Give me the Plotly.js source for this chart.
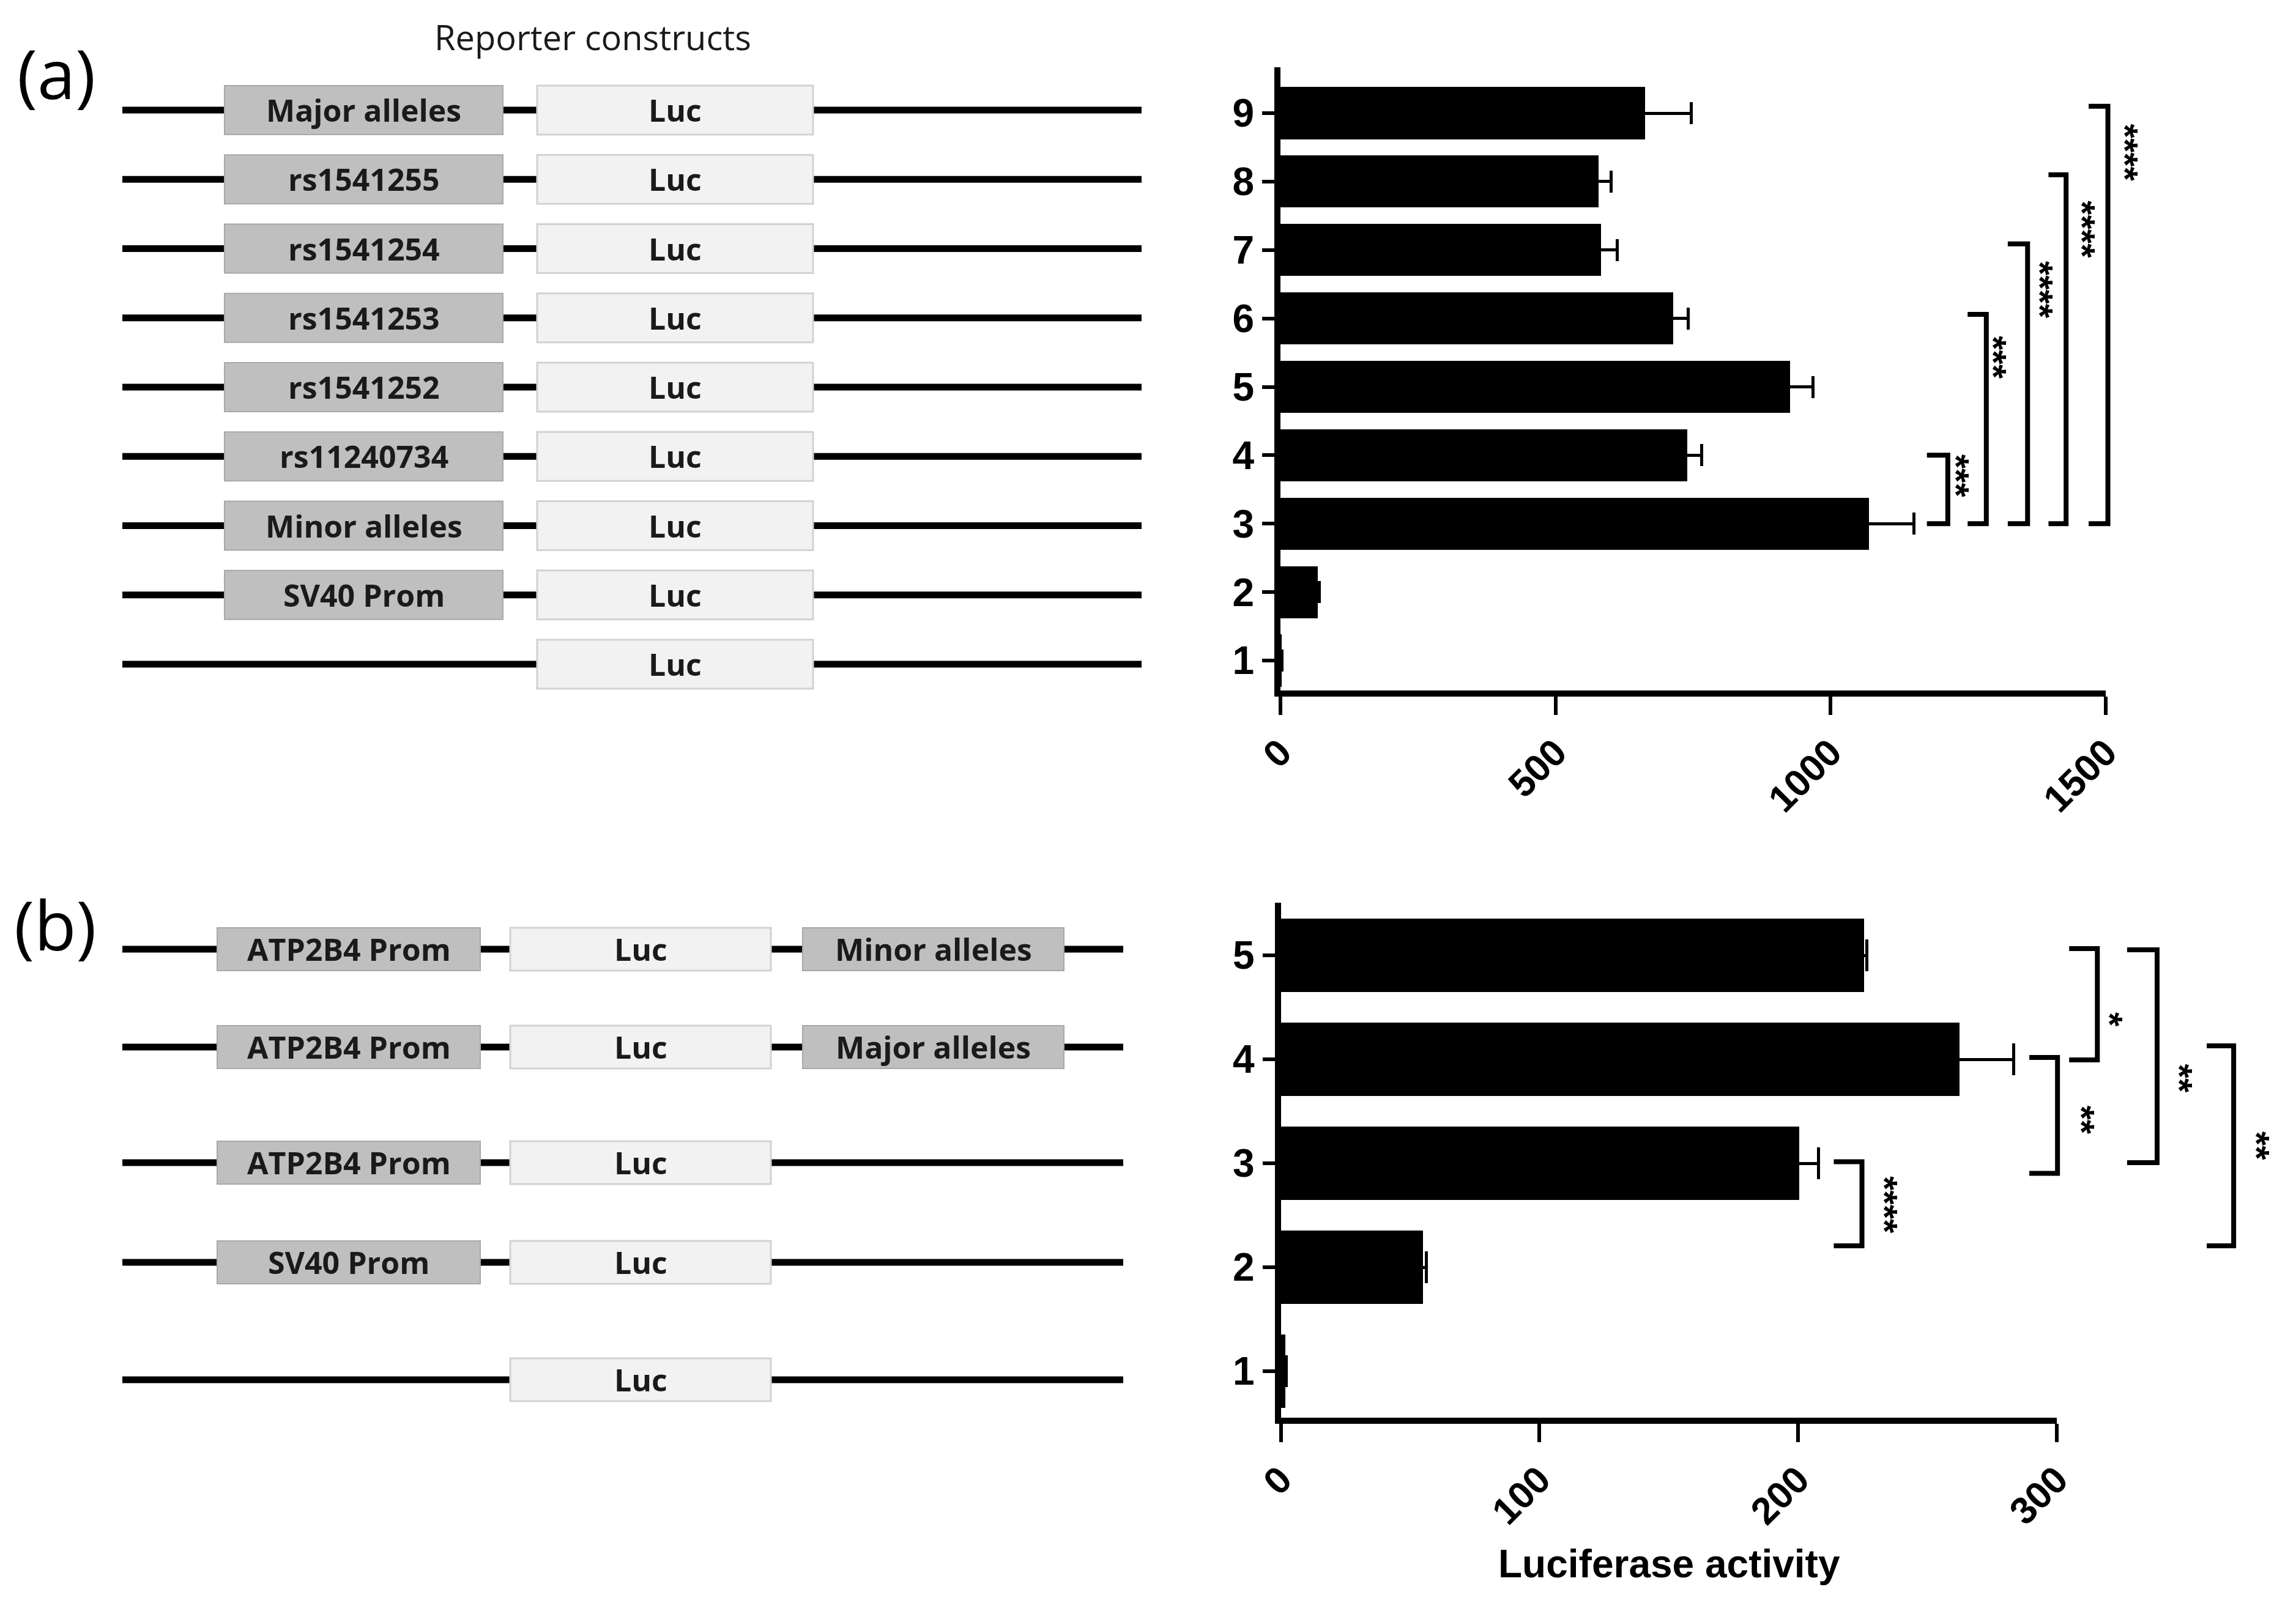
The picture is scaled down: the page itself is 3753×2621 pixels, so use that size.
<!DOCTYPE html>
<html>
<head>
<meta charset="utf-8">
<script src="https://cdn.plot.ly/plotly-3.0.1.min.js"></script>
<style>html,body{margin:0;padding:0;background:#fff;}#chart{width:3753px;height:2621px;}</style>
</head>
<body>
<div id="chart"></div>
<script>
// ---------------- DATA ----------------
// Panel (a): construct number (1..9) and luciferase activity
const aCats = [1, 2, 3, 4, 5, 6, 7, 8, 9];
const aValues = [2, 68, 1070, 740, 926, 714, 583, 578, 663];
const aErrors = [1, 3, 82, 26, 42, 27, 29, 23, 84];
const aTickVals = [0, 500, 1000, 1500];
const aTickText = ['0', '500', '1000', '1500'];
// constructs listed top (9) to bottom (1)
const aElements = ['Major alleles', 'rs1541255', 'rs1541254', 'rs1541253', 'rs1541252', 'rs11240734', 'Minor alleles', 'SV40 Prom', ''];
const aComparisons = [[3, 4], [3, 6], [3, 7], [3, 8], [3, 9]];
const aStars = ['***', '***', '****', '****', '****'];

// Panel (b)
const bCats = [1, 2, 3, 4, 5];
const bValues = [1.8, 55, 200.5, 262.5, 225.5];
const bErrors = [0.4, 1.2, 7.4, 20.8, 1.2];
const bTickVals = [0, 100, 200, 300];
const bTickText = ['0', '100', '200', '300'];
// constructs listed top (5) to bottom (1)
const bPromoters = ['ATP2B4 Prom', 'ATP2B4 Prom', 'ATP2B4 Prom', 'SV40 Prom', ''];
const bEnhancers = ['Minor alleles', 'Major alleles', '', '', ''];
const bComparisons = [[2, 3], [3, 4], [4, 5], [3, 5], [2, 4]];
const bStars = ['****', '**', '*', '**', '**'];

const reporterLabel = 'Luc';
const xTitle = 'Luciferase activity';

// ---------------- LAYOUT GEOMETRY (pixels of the 3753x2621 figure) ----------------
const W = 3753, H = 2621;
const px = v => v / W;
const py = v => 1 - v / H;

// bracket geometry, same order as comparisons: arm start, vertical x, low y, high y, star x, star y
const aBracketGeom = [
  [1175, 1213, 3.0, 4.0, 1239, 3.70],
  [1249, 1283, 3.0, 6.06, 1307, 5.43],
  [1322, 1358, 3.0, 7.09, 1392, 6.42],
  [1396, 1428, 3.0, 8.10, 1469, 7.30],
  [1469, 1504, 3.0, 9.10, 1546, 8.42]
];
const bBracketGeom = [
  [213.8, 224.7, 2.206, 3.014, 235.7, 2.60],
  [289.4, 300.3, 2.903, 4.018, 311.9, 3.42],
  [304.8, 315.7, 3.994, 5.065, 322.8, 4.38],
  [327.2, 338.8, 3.006, 5.053, 349.7, 3.82],
  [358.0, 368.4, 2.206, 4.129, 379.8, 3.17]
];

const tickFont = {family: 'Liberation Sans, Arial, sans-serif', size: 62, color: '#000', weight: 'bold'};
const ytickFont = {family: 'Liberation Sans, Arial, sans-serif', size: 64, color: '#000', weight: 'bold'};
const diagFont = {family: 'Open Sans, sans-serif', size: 50, color: '#1a1a1a', weight: 'bold'};

// plot areas
const aX0 = 2093, aPxPerUnit = 0.8993;
const aY = {top: 110, bottom: 1129};
const bX0 = 2093.5, bPxPerUnit = 4.228;
const bY = {top: 1476, bottom: 2318};

const traces = [
  {
    type: 'bar', orientation: 'h', y: aCats, x: aValues, width: 0.76,
    marker: {color: '#000', line: {width: 0}},
    error_x: {type: 'data', array: aErrors, visible: true, color: '#000', thickness: 5, width: 18},
    xaxis: 'x', yaxis: 'y', hoverinfo: 'skip', showlegend: false
  },
  {
    type: 'bar', orientation: 'h', y: bCats, x: bValues, width: 0.71,
    marker: {color: '#000', line: {width: 0}},
    error_x: {type: 'data', array: bErrors, visible: true, color: '#000', thickness: 5, width: 26},
    xaxis: 'x2', yaxis: 'y2', hoverinfo: 'skip', showlegend: false
  },
  {type: 'scatter', x: [], y: [], xaxis: 'x3', yaxis: 'y3', hoverinfo: 'skip', showlegend: false},
  {type: 'scatter', x: [], y: [], xaxis: 'x4', yaxis: 'y4', hoverinfo: 'skip', showlegend: false}
];

const commonX = {
  showgrid: false, zeroline: false, showline: true, linewidth: 10, linecolor: '#000',
  ticks: 'outside', ticklen: 30, tickwidth: 6, tickcolor: '#000', tickangle: -45,
  tickfont: tickFont, tickmode: 'array', fixedrange: true
};
const commonY = {
  showgrid: false, zeroline: false, showline: true, linewidth: 10, linecolor: '#000',
  ticks: 'outside', ticklen: 20, tickwidth: 6, tickcolor: '#000',
  tickfont: ytickFont, tickmode: 'array', fixedrange: true
};

const aRange = [1 - (aY.bottom - 1080) / 111.875, 9 + (185 - aY.top) / 111.875];
const bRange = [1 - (bY.bottom - 2242) / 170, 5 + (1562 - bY.top) / 170];

const layout = {
  width: W, height: H,
  margin: {l: 0, r: 0, t: 0, b: 0, pad: 0},
  paper_bgcolor: '#fff', plot_bgcolor: 'rgba(0,0,0,0)',
  showlegend: false, bargap: 0,
  xaxis: Object.assign({}, commonX, {
    domain: [px(aX0), px(aX0 + 1500 * aPxPerUnit)], range: [0, 1500],
    tickvals: aTickVals, ticktext: aTickText, anchor: 'y'
  }),
  yaxis: Object.assign({}, commonY, {
    domain: [py(aY.bottom), py(aY.top)], range: aRange,
    tickvals: aCats, ticktext: aCats.map(String), anchor: 'x'
  }),
  xaxis2: Object.assign({}, commonX, {
    domain: [px(bX0), px(bX0 + 300 * bPxPerUnit)], range: [0, 300],
    tickvals: bTickVals, ticktext: bTickText, anchor: 'y2'
  }),
  yaxis2: Object.assign({}, commonY, {
    domain: [py(bY.bottom), py(bY.top)], range: bRange,
    tickvals: bCats, ticktext: bCats.map(String), anchor: 'x2'
  }),
  // overlay axes (invisible) used to place significance brackets beyond the data axes
  xaxis3: {visible: false, domain: [px(aX0), px(aX0 + 1700 * aPxPerUnit)], range: [0, 1700], anchor: 'y3', fixedrange: true},
  yaxis3: {visible: false, domain: [py(aY.bottom), py(aY.top)], range: aRange, anchor: 'x3', fixedrange: true},
  xaxis4: {visible: false, domain: [px(bX0), px(bX0 + 390 * bPxPerUnit)], range: [0, 390], anchor: 'y4', fixedrange: true},
  yaxis4: {visible: false, domain: [py(bY.bottom), py(bY.top)], range: bRange, anchor: 'x4', fixedrange: true},
  shapes: [],
  annotations: []
};

// ---- significance brackets & stars ----
function addBrackets(geom, stars, xa, ya) {
  geom.forEach((g, i) => {
    const [arm, vx, lo, hi, sx, sy] = g;
    layout.shapes.push({
      type: 'path', xref: xa, yref: ya, layer: 'above',
      path: `M ${arm},${hi} L ${vx},${hi} L ${vx},${lo} L ${arm},${lo}`,
      line: {color: '#000', width: 8}
    });
    layout.annotations.push({
      xref: xa, yref: ya, x: sx, y: sy, text: stars[i], showarrow: false,
      textangle: 90, xshift: -10,
      font: {family: 'Liberation Sans, Arial, sans-serif', size: 60, color: '#000', weight: 'bold'}
    });
  });
}
addBrackets(aBracketGeom, aStars, 'x3', 'y3');
addBrackets(bBracketGeom, bStars, 'x4', 'y4');

// ---- construct diagrams ----
function rect(x0, x1, yc, h, fill, edge, ew) {
  layout.shapes.push({
    type: 'rect', xref: 'paper', yref: 'paper',
    x0: px(x0), x1: px(x1), y0: py(yc + h / 2), y1: py(yc - h / 2),
    fillcolor: fill, line: {color: edge, width: ew}, layer: 'above'
  });
}
function label(text, xc, yc, font) {
  if (!text) return;
  layout.annotations.push({
    xref: 'paper', yref: 'paper', x: px(xc), y: py(yc), text: text, showarrow: false,
    xanchor: 'center', yanchor: 'middle', font: font
  });
}
function hline(x0, x1, yc) {
  layout.shapes.push({
    type: 'line', xref: 'paper', yref: 'paper', x0: px(x0), x1: px(x1), y0: py(yc), y1: py(yc),
    line: {color: '#000', width: 11}, layer: 'above'
  });
}
const darkFill = '#bfbfbf', darkEdge = '#a8a8a8';
const lightFill = '#f2f2f2', lightEdge = '#d2d2d2';

// panel (a)
aElements.forEach((el, i) => {
  const yc = 180 + i * 113.25;
  hline(200, 1866, yc);
  if (el) { rect(367, 822, yc, 80, darkFill, darkEdge, 2); label(el, 594.5, yc, diagFont); }
  rect(878, 1329, yc, 80, lightFill, lightEdge, 3);
  label(reporterLabel, 1103.5, yc, diagFont);
});
// panel (b)
const bRows = [1552, 1712, 1901, 2064, 2256];
bPromoters.forEach((pr, i) => {
  const yc = bRows[i];
  hline(200, 1836, yc);
  if (pr) { rect(355, 785, yc, 70, darkFill, darkEdge, 2); label(pr, 570, yc, diagFont); }
  rect(834, 1260, yc, 70, lightFill, lightEdge, 3);
  label(reporterLabel, 1047, yc, diagFont);
  if (bEnhancers[i]) { rect(1312, 1739, yc, 70, darkFill, darkEdge, 2); label(bEnhancers[i], 1525.5, yc, diagFont); }
});

// headings
label('Reporter constructs', 969, 60, {family: 'Open Sans, sans-serif', size: 56, color: '#1a1a1a'});
label('(a)', 92, 118, {family: 'Open Sans, sans-serif', size: 112, color: '#000'});
label('(b)', 90, 1510, {family: 'Open Sans, sans-serif', size: 112, color: '#000'});
label(xTitle, 2728, 2557, {family: 'Liberation Sans, Arial, sans-serif', size: 64, color: '#000', weight: 'bold'});

Plotly.newPlot('chart', traces, layout, {staticPlot: true, displayModeBar: false});
</script>
</body>
</html>
